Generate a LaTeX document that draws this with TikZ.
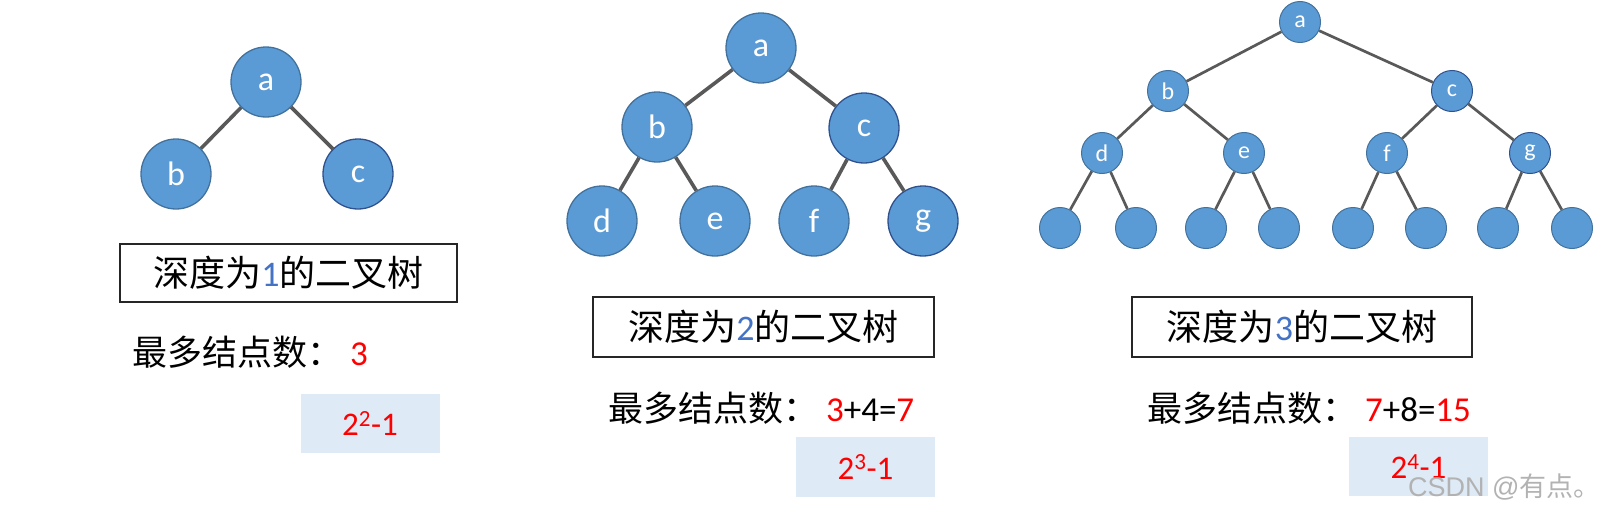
\documentclass[tikz,border=0pt]{standalone}
\usepackage{fontspec}
\setmainfont{Carlito}
\newfontfamily\cjk{Noto Sans CJK SC}
\newfontfamily\wmfont{Liberation Sans}
\definecolor{nodefill}{HTML}{5B9BD5}
\definecolor{nodeborder}{HTML}{41719C}
\definecolor{nodebordertwo}{HTML}{2F528F}
\definecolor{edgecol}{HTML}{595959}
\definecolor{shadecol}{HTML}{DEEBF7}
\definecolor{digitblue}{HTML}{4472C4}
\definecolor{numred}{HTML}{FF0000}
\begin{document}
\begin{tikzpicture}[x=1pt,y=-1pt,
  tn/.style={circle, fill=nodefill, draw=nodeborder, line width=1.3pt, text=white, inner sep=0pt, minimum size=70pt, font=\fontsize{34}{34}\selectfont},
  tnd/.style={tn, draw=nodebordertwo},
  sn/.style={tn, minimum size=41pt, line width=1pt, font=\fontsize{24}{24}\selectfont},
  snd/.style={sn, draw=nodebordertwo},
  edge/.style={draw=edgecol, line width=3.6pt},
  sedge/.style={draw=edgecol, line width=2.7pt},
  titlebox/.style={draw=black!85, line width=1.2pt, inner sep=0pt, minimum height=60pt, font=\fontsize{36}{36}\selectfont},
  infotext/.style={anchor=west, inner sep=0pt, font=\fontsize{35}{35}\selectfont},
  shadebox/.style={fill=shadecol, inner sep=0pt, minimum width=139pt, minimum height=59pt, text=numred, font=\fontsize{33}{33}\selectfont},
  wmark/.style={anchor=west, inner sep=0pt, text=black!30, font=\wmfont\fontsize{27}{27}\selectfont}
]
\useasboundingbox (0,0) rectangle (1624,514);

% ---------- Tree 1 ----------
\node[tn]  (a1) at (266,82)  {a};
\node[tn]  (b1) at (176,174) {b};
\node[tnd] (c1) at (358,174) {c};
\draw[edge] (a1) -- (b1);
\draw[edge] (a1) -- (c1);

\node[titlebox, minimum width=337pt, minimum height=58pt] (t1) at (288.5,273) {\cjk 深度为\textcolor{digitblue}{\normalfont 1}\cjk 的二叉树};
\node[infotext] (i1) at (132,352) {\cjk 最多结点数：\normalfont\ \textcolor{numred}{3}};
\node[shadebox] (s1) at (370,423.5) {2\textsuperscript{2}-1};

% ---------- Tree 2 ----------
\node[tn]  (a2) at (761,48)  {a};
\node[tn]  (b2) at (657,127) {b};
\node[tnd] (c2) at (864,128) {c};
\node[tn]  (d2) at (602,221) {d};
\node[tn]  (e2) at (715,221) {e};
\node[tn]  (f2) at (814,221) {f};
\node[tnd] (g2) at (923,221) {g};
\draw[edge] (a2) -- (b2);
\draw[edge] (a2) -- (c2);
\draw[edge] (b2) -- (d2);
\draw[edge] (b2) -- (e2);
\draw[edge] (c2) -- (f2);
\draw[edge] (c2) -- (g2);

\node[titlebox, minimum width=341pt] (t2) at (763.5,327) {\cjk 深度为\textcolor{digitblue}{\normalfont 2}\cjk 的二叉树};
\node[infotext] (i2) at (608,408) {\cjk 最多结点数：\normalfont\ \textcolor{numred}{3}+4=\textcolor{numred}{7}};
\node[shadebox, minimum height=60pt] (s2) at (865.5,467) {2\textsuperscript{3}-1};

% ---------- Tree 3 ----------
\node[sn]  (a3) at (1300,22)  {a};
\node[sn]  (b3) at (1168,91)  {b};
\node[snd] (c3) at (1452,91)  {c};
\node[sn]  (d3) at (1102,153) {d};
\node[sn]  (e3) at (1244,153) {e};
\node[sn]  (f3) at (1387,153) {f};
\node[snd] (g3) at (1530,153) {g};
\node[sn] (l1) at (1060,228) {};
\node[sn] (l2) at (1136,228) {};
\node[sn] (l3) at (1206,228) {};
\node[sn] (l4) at (1279,228) {};
\node[sn] (l5) at (1353,228) {};
\node[sn] (l6) at (1426,228) {};
\node[sn] (l7) at (1498,228) {};
\node[sn] (l8) at (1572,228) {};
\draw[sedge] (a3) -- (b3);
\draw[sedge] (a3) -- (c3);
\draw[sedge] (b3) -- (d3);
\draw[sedge] (b3) -- (e3);
\draw[sedge] (c3) -- (f3);
\draw[sedge] (c3) -- (g3);
\draw[sedge] (d3) -- (l1);
\draw[sedge] (d3) -- (l2);
\draw[sedge] (e3) -- (l3);
\draw[sedge] (e3) -- (l4);
\draw[sedge] (f3) -- (l5);
\draw[sedge] (f3) -- (l6);
\draw[sedge] (g3) -- (l7);
\draw[sedge] (g3) -- (l8);

\node[titlebox, minimum width=340pt] (t3) at (1302,327) {\cjk 深度为\textcolor{digitblue}{\normalfont 3}\cjk 的二叉树};
\node[infotext] (i3) at (1147,408) {\cjk 最多结点数：\normalfont\ \textcolor{numred}{7}+8=\textcolor{numred}{15}};
\node[shadebox] (s3) at (1418.5,466.5) {2\textsuperscript{4}-1};

\node[wmark] (wm) at (1408,487) {CSDN @\cjk 有点。};
\end{tikzpicture}
\end{document}
